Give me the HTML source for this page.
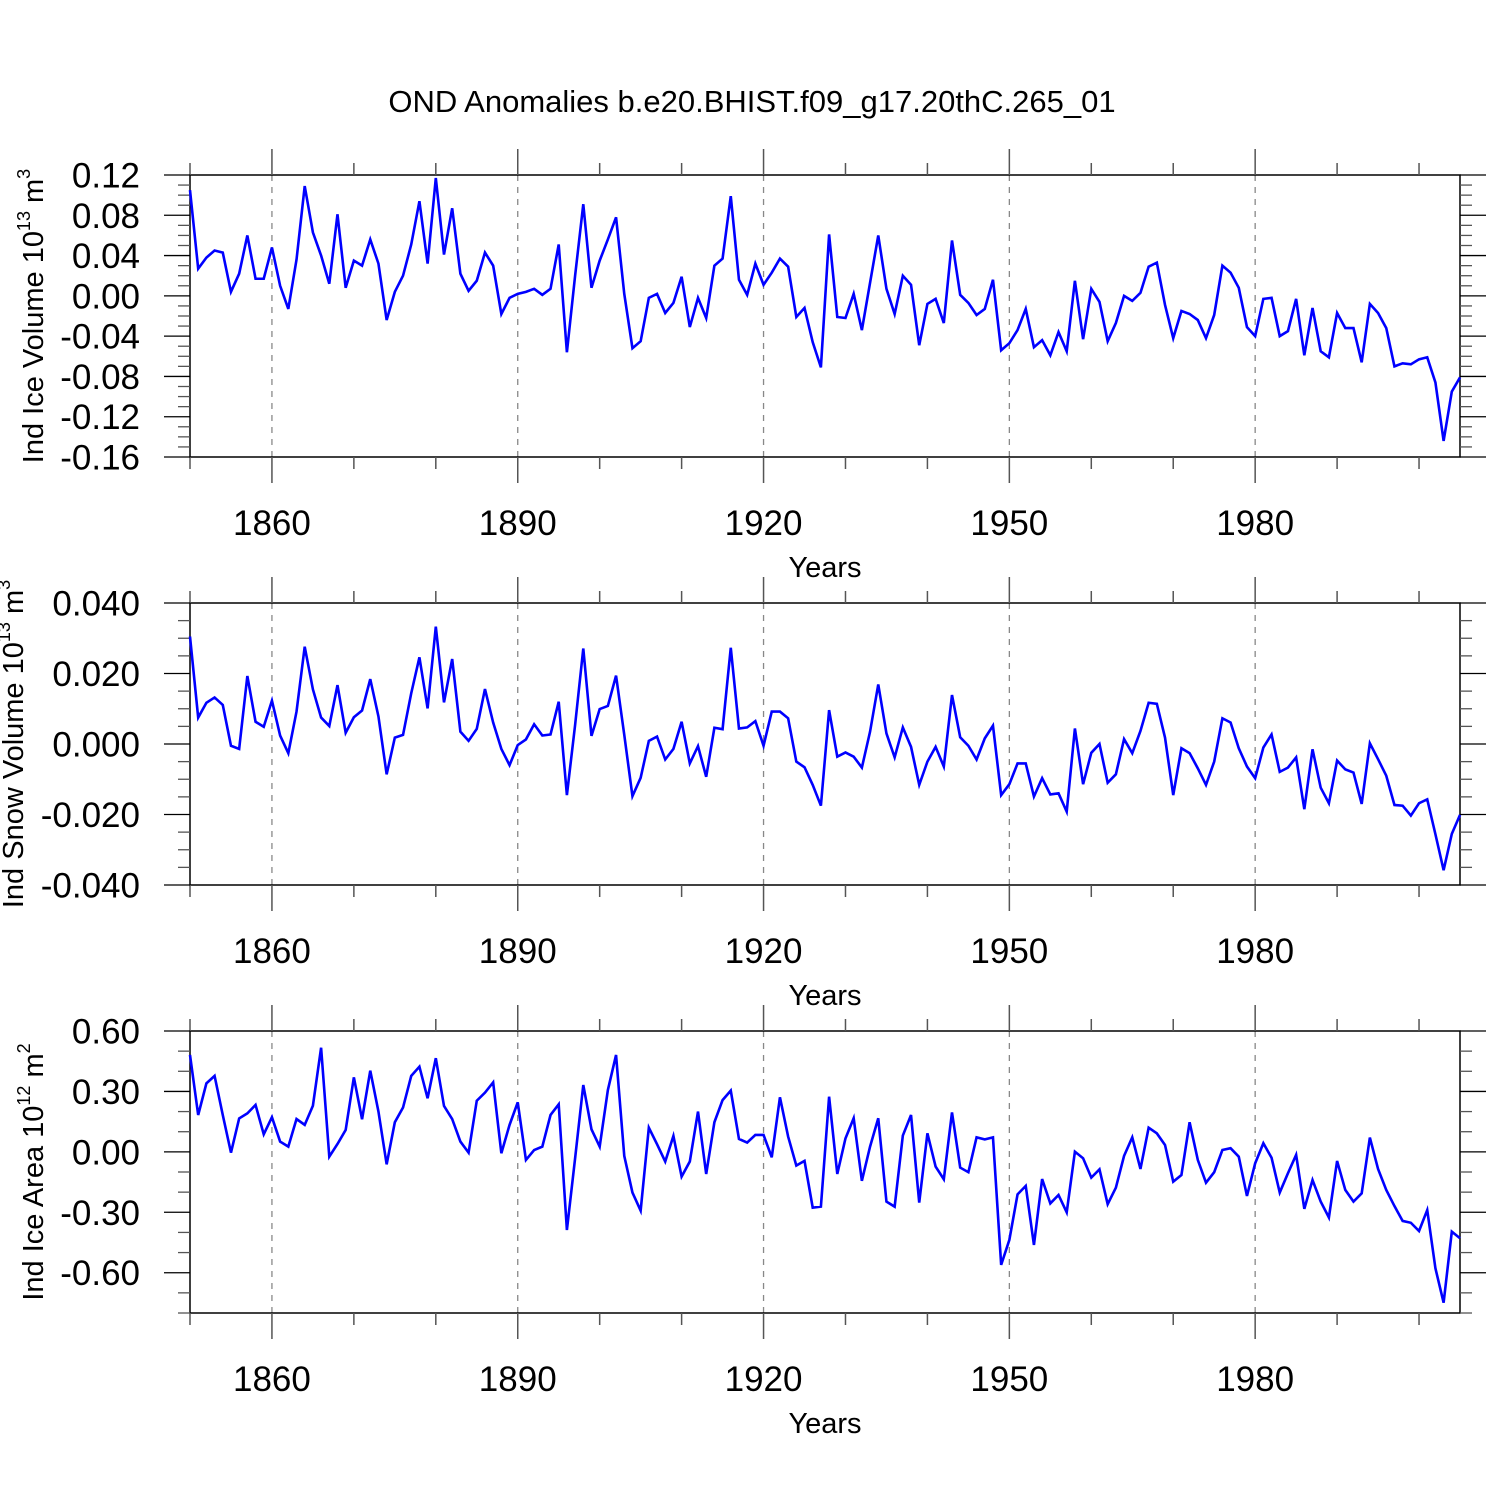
<!DOCTYPE html>
<html><head><meta charset="utf-8"><title>OND Anomalies</title>
<style>html,body{margin:0;padding:0;background:#fff;}svg{display:block;font-family:"Liberation Sans",Arial,sans-serif;}</style>
</head><body>
<svg id="chart" width="1500" height="1500" viewBox="0 0 1500 1500" xmlns="http://www.w3.org/2000/svg">
<rect x="0" y="0" width="1500" height="1500" fill="#fff"/>
<text x="752" y="112" font-size="31" text-anchor="middle">OND Anomalies b.e20.BHIST.f09_g17.20thC.265_01</text>
</svg>
<script>
const startYear = 1850;
const iceVolume = [0.105,0.027,0.038,0.045,0.043,0.004,0.022,0.060,0.017,0.017,0.048,0.010,-0.013,0.036,0.109,0.063,0.040,0.012,0.081,0.008,0.035,0.030,0.056,0.032,-0.024,0.004,0.020,0.051,0.094,0.032,0.117,0.041,0.087,0.022,0.005,0.015,0.043,0.030,-0.018,-0.002,0.002,0.004,0.007,0.001,0.007,0.051,-0.056,0.020,0.091,0.008,0.035,0.056,0.078,0.002,-0.052,-0.045,-0.002,0.002,-0.017,-0.007,0.019,-0.031,-0.002,-0.022,0.030,0.037,0.099,0.016,0.001,0.032,0.011,0.023,0.037,0.029,-0.021,-0.012,-0.046,-0.071,0.061,-0.021,-0.022,0.002,-0.034,0.013,0.060,0.007,-0.018,0.020,0.011,-0.049,-0.008,-0.003,-0.027,0.055,0.001,-0.007,-0.019,-0.013,0.016,-0.054,-0.047,-0.034,-0.013,-0.051,-0.044,-0.059,-0.036,-0.055,0.015,-0.043,0.007,-0.006,-0.045,-0.027,0.000,-0.005,0.003,0.029,0.033,-0.009,-0.042,-0.015,-0.018,-0.024,-0.042,-0.019,0.030,0.023,0.008,-0.031,-0.040,-0.003,-0.002,-0.040,-0.035,-0.003,-0.059,-0.012,-0.055,-0.061,-0.017,-0.032,-0.032,-0.066,-0.008,-0.017,-0.032,-0.070,-0.067,-0.068,-0.063,-0.061,-0.086,-0.144,-0.095,-0.081];
const snowVolume = [0.0305,0.0075,0.0117,0.0132,0.0111,-0.0005,-0.0014,0.0193,0.0063,0.0049,0.0123,0.0024,-0.0026,0.0092,0.0276,0.0155,0.0075,0.0051,0.0167,0.0032,0.0076,0.0095,0.0184,0.0078,-0.0086,0.0018,0.0026,0.0144,0.0246,0.0101,0.0333,0.0118,0.0241,0.0035,0.0009,0.0043,0.0156,0.0061,-0.0014,-0.0060,-0.0003,0.0013,0.0056,0.0024,0.0027,0.0120,-0.0145,0.0054,0.0271,0.0023,0.0099,0.0108,0.0194,0.0026,-0.0148,-0.0096,0.0009,0.0021,-0.0044,-0.0014,0.0063,-0.0055,-0.0006,-0.0093,0.0046,0.0042,0.0273,0.0044,0.0047,0.0065,-0.0005,0.0092,0.0092,0.0073,-0.0050,-0.0066,-0.0116,-0.0175,0.0096,-0.0036,-0.0024,-0.0036,-0.0067,0.0035,0.0169,0.0030,-0.0038,0.0047,-0.0008,-0.0116,-0.0050,-0.0008,-0.0064,0.0139,0.0019,-0.0005,-0.0044,0.0016,0.0052,-0.0145,-0.0114,-0.0055,-0.0055,-0.0149,-0.0097,-0.0143,-0.0140,-0.0192,0.0044,-0.0114,-0.0025,0.0000,-0.0110,-0.0086,0.0014,-0.0026,0.0037,0.0117,0.0114,0.0018,-0.0145,-0.0012,-0.0026,-0.0069,-0.0116,-0.0050,0.0073,0.0061,-0.0012,-0.0064,-0.0097,-0.0010,0.0027,-0.0079,-0.0067,-0.0038,-0.0185,-0.0015,-0.0124,-0.0168,-0.0047,-0.0072,-0.0081,-0.0170,0.0002,-0.0043,-0.0090,-0.0173,-0.0175,-0.0203,-0.0168,-0.0157,-0.0256,-0.0358,-0.0255,-0.0201];
const iceArea = [0.481,0.183,0.340,0.377,0.183,-0.004,0.166,0.191,0.233,0.087,0.172,0.051,0.026,0.163,0.134,0.229,0.517,-0.024,0.039,0.109,0.370,0.162,0.403,0.200,-0.062,0.147,0.220,0.377,0.423,0.266,0.465,0.228,0.163,0.051,-0.004,0.254,0.294,0.345,-0.007,0.134,0.246,-0.040,0.009,0.026,0.183,0.236,-0.388,-0.032,0.332,0.112,0.026,0.307,0.481,-0.020,-0.202,-0.292,0.120,0.038,-0.048,0.079,-0.123,-0.048,0.200,-0.110,0.147,0.257,0.304,0.064,0.046,0.084,0.084,-0.027,0.271,0.076,-0.068,-0.045,-0.277,-0.272,0.274,-0.110,0.067,0.167,-0.144,0.026,0.167,-0.247,-0.272,0.081,0.183,-0.252,0.092,-0.073,-0.136,0.196,-0.078,-0.101,0.072,0.062,0.072,-0.561,-0.437,-0.211,-0.169,-0.462,-0.135,-0.256,-0.214,-0.300,0.001,-0.032,-0.128,-0.087,-0.260,-0.178,-0.020,0.072,-0.085,0.120,0.092,0.034,-0.148,-0.115,0.147,-0.040,-0.153,-0.101,0.009,0.018,-0.024,-0.219,-0.057,0.043,-0.029,-0.202,-0.106,-0.015,-0.283,-0.140,-0.247,-0.326,-0.045,-0.189,-0.247,-0.206,0.071,-0.085,-0.189,-0.269,-0.343,-0.352,-0.393,-0.289,-0.578,-0.749,-0.396,-0.429];
const xTickYears = [1850,1860,1870,1880,1890,1900,1910,1920,1930,1940,1950,1960,1970,1980,1990,2000];
const xLabelYears = [1860,1890,1920,1950,1980];
const ticks1 = ["0.12","0.08","0.04","0.00","-0.04","-0.08","-0.12","-0.16"];
const ticks2 = ["0.040","0.020","0.000","-0.020","-0.040"];
const ticks3 = ["0.60","0.30","0.00","-0.30","-0.60"];

const NS = "http://www.w3.org/2000/svg";
const svg = document.getElementById('chart');
const X0 = 190, X1 = 1460, Y_START = 1850, Y_END = 2005;
function xScale(yr){ return X0 + (yr - Y_START) * (X1 - X0) / (Y_END - Y_START); }
function mk(tag, attrs){ const e = document.createElementNS(NS, tag); for (const k in attrs) e.setAttribute(k, attrs[k]); return e; }

function panel(cfg){
  const g = mk('g', {});
  
  
  svg.appendChild(g);
  const yScale = v => cfg.top + (cfg.max - v) * (cfg.bottom - cfg.top) / (cfg.max - cfg.min);
  xLabelYears.forEach(yr => {
    const l = mk('line', {x1: xScale(yr), x2: xScale(yr), y1: cfg.top, y2: cfg.bottom, stroke: '#888', 'stroke-width': 1.3, 'stroke-dasharray': '6,6'});
    
    
    g.appendChild(l);
  });
  const fr = mk('rect', {x: X0, y: cfg.top, width: X1 - X0, height: cfg.bottom - cfg.top, fill: 'none', stroke: '#000', 'stroke-width': 1.5});
  
  
  g.appendChild(fr);
  xTickYears.forEach(yr => {
    const major = xLabelYears.indexOf(yr) >= 0;
    const len = major ? 26 : 12;
    const x = xScale(yr);
    const t1 = mk('line', {x1: x, x2: x, y1: cfg.top, y2: cfg.top - len, stroke: '#555', 'stroke-width': 1.5});
    
    
    g.appendChild(t1);
    const t2 = mk('line', {x1: x, x2: x, y1: cfg.bottom, y2: cfg.bottom + len, stroke: '#555', 'stroke-width': 1.5});
    
    
    g.appendChild(t2);
  });
  xLabelYears.forEach(yr => {
    const t = mk('text', {x: xScale(yr), y: cfg.bottom + 78, 'font-size': 35, 'text-anchor': 'middle'});
    t.textContent = String(yr);
    
    
    g.appendChild(t);
  });
  const xt = mk('text', {x: 825, y: cfg.bottom + 120, 'font-size': 29, 'text-anchor': 'middle'});
  xt.textContent = 'Years';
  
  
  g.appendChild(xt);
  const nMinor = Math.round((cfg.max - cfg.min) / cfg.minor);
  for (let i = 0; i <= nMinor; i++) {
    const v = cfg.max - i * cfg.minor;
    const y = yScale(v);
    const major = (i % cfg.per) === 0;
    const len = major ? 26 : 12;
    const a = mk('line', {x1: X0, x2: X0 - len, y1: y, y2: y, stroke: major ? '#000' : '#555', 'stroke-width': 1.3});
    
    
    g.appendChild(a);
    const b = mk('line', {x1: X1, x2: X1 + len, y1: y, y2: y, stroke: major ? '#000' : '#555', 'stroke-width': 1.3});
    
    
    g.appendChild(b);
  }
  cfg.labels.forEach(lab => {
    const t = mk('text', {x: 140, y: yScale(parseFloat(lab)) + 12.5, 'font-size': 35, 'text-anchor': 'end'});
    t.textContent = lab;
    
    
    g.appendChild(t);
  });
  const yt = mk('text', {x: 0, y: 0, 'font-size': 29, 'text-anchor': 'middle', transform: 'translate(' + cfg.titleX + ',' + cfg.titleY + ') rotate(-90)'});
  
  
  const s1 = mk('tspan', {}); s1.textContent = cfg.title + ' 10';
  const s2 = mk('tspan', {dy: -13, 'font-size': 18}); s2.textContent = cfg.exp;
  const s3 = mk('tspan', {dy: 13}); s3.textContent = ' m';
  const s4 = mk('tspan', {dy: -13, 'font-size': 18}); s4.textContent = cfg.unitExp;
  yt.appendChild(s1); yt.appendChild(s2); yt.appendChild(s3); yt.appendChild(s4);
  g.appendChild(yt);
  let d = '';
  cfg.data.forEach((v, i) => { d += (i ? 'L' : 'M') + xScale(startYear + i).toFixed(2) + ',' + yScale(v).toFixed(2); });
  const p = mk('path', {d: d, fill: 'none', stroke: '#0000ff', 'stroke-width': 2.6, 'stroke-linejoin': 'miter'});
  
  
  g.appendChild(p);
}

panel({name: 'ice-volume-panel', seriesName: 'ice-volume-line', top: 175, bottom: 457, max: 0.12, min: -0.16, minor: 0.01, per: 4, labels: ticks1, data: iceVolume, title: 'Ind Ice Volume', exp: '13', unitExp: '3', titleX: 43, titleY: 316});
panel({name: 'snow-volume-panel', seriesName: 'snow-volume-line', top: 603, bottom: 885, max: 0.04, min: -0.04, minor: 0.005, per: 4, labels: ticks2, data: snowVolume, title: 'Ind Snow Volume', exp: '13', unitExp: '3', titleX: 23, titleY: 744});
panel({name: 'ice-area-panel', seriesName: 'ice-area-line', top: 1031, bottom: 1313, max: 0.6, min: -0.8, minor: 0.1, per: 3, labels: ticks3, data: iceArea, title: 'Ind Ice Area', exp: '12', unitExp: '2', titleX: 43, titleY: 1172});
</script>
</body></html>
